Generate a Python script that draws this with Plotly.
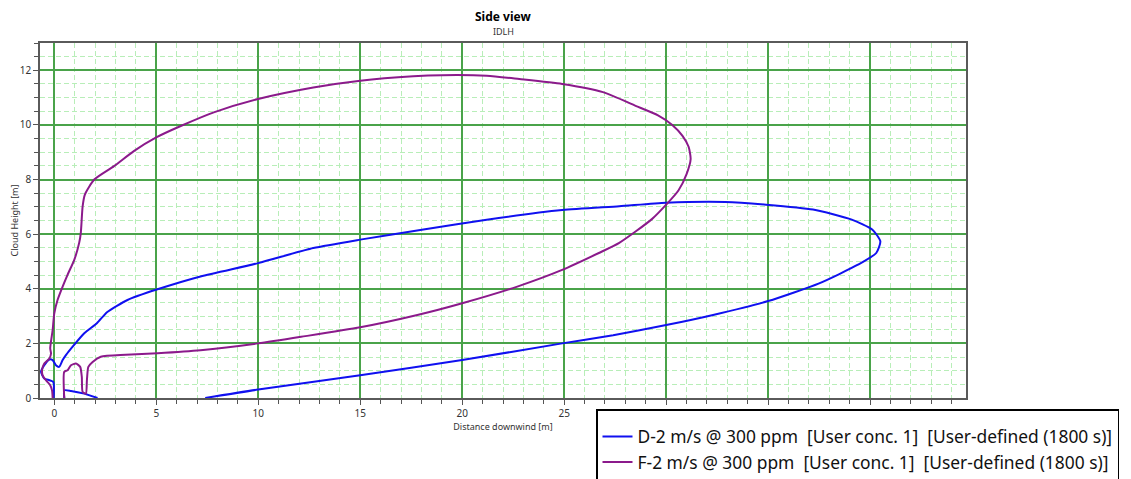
import plotly.graph_objects as go

# ---- data ----
d2_x = [7.4, 10.0, 15.0, 20.0, 24.9, 27.4, 30.0, 32.3, 35.0, 37.5, 39.4, 40.3, 40.5, 40.1, 39.1,
        37.2, 34.9, 32.9, 30.0, 27.7, 24.9, 21.2, 18.1, 15.0, 12.7, 10.0, 7.17, 5.06, 3.59, 2.6,
        2.1, 1.47, 0.9, 0.57, 0.41, 0.24, 0.08, -0.08, -0.24, -0.49, -0.65, -0.49, -0.24, -0.05, -0.03,
        None, 0.49, 0.49, 0.82, 1.47, 2.12]
d2_y = [0.0, 0.31, 0.83, 1.39, 2.0, 2.3, 2.67, 3.04, 3.55, 4.2, 4.88, 5.31, 5.74, 6.17, 6.53,
        6.9, 7.08, 7.18, 7.15, 7.02, 6.88, 6.53, 6.17, 5.8, 5.49, 4.94, 4.45, 3.98, 3.59, 3.15,
        2.75, 2.37, 1.88, 1.57, 1.39, 1.14, 1.2, 1.39, 1.41, 1.2, 0.96, 0.71, 0.65, 0.59, 0.0,
        None, 0.0, 0.28, 0.26, 0.16, 0.0]

f2_x = [0.49, 0.49, 0.65, 0.82, 1.06, 1.27, 1.35, 1.39, 1.55, 1.60, 1.67, 1.88, 2.28, 3.5, 5.06,
        7.17, 10.0, 12.1, 15.0, 17.8, 20.0, 22.7, 24.9, 26.7, 27.7, 29.3, 30.0, 30.6, 31.0, 31.2,
        31.1, 30.8, 30.3, 29.6, 28.5, 26.9, 24.9, 22.8, 21.2, 19.0, 17.6, 15.0, 12.7, 9.94, 7.82, 6.2,
        5.02, 3.9, 2.93, 1.96, 1.5, 1.39, 1.3, 1.22, 0.98, 0.65, 0.41, 0.16, 0.0, -0.08, -0.2,
        -0.16, -0.24, -0.49, -0.6, -0.57, -0.41, -0.2, -0.11, -0.08]
f2_y = [0.0, 0.96, 1.02, 1.2, 1.26, 1.14, 0.77, 0.22, 0.16, 0.65, 1.14, 1.32, 1.51, 1.58, 1.64,
        1.75, 2.0, 2.24, 2.59, 3.04, 3.47, 4.08, 4.69, 5.31, 5.68, 6.55, 7.08, 7.6, 8.2, 8.75,
        9.2, 9.6, 10.0, 10.35, 10.7, 11.2, 11.5, 11.68, 11.8, 11.82, 11.78, 11.62, 11.37, 10.94, 10.46, 9.96,
        9.55, 9.04, 8.49, 8.0, 7.45, 7.02, 6.04, 5.68, 5.06, 4.51, 4.08, 3.59, 3.1, 2.49, 1.82,
        1.63, 1.45, 1.26, 1.02, 0.83, 0.65, 0.47, 0.28, 0.0]

series_names = ["D-2 m/s @ 300 ppm  [User conc. 1]  [User-defined (1800 s)]",
                "F-2 m/s @ 300 ppm  [User conc. 1]  [User-defined (1800 s)]"]
series_colors = ["#1010f0", "#8b1a8b"]

x_ticks = [0, 5, 10, 15, 20, 25, 30, 35, 40]
x_ticklabels = ["0", "5", "10", "15", "20", "25", "", "", ""]   # 30-40 hidden behind legend
y_ticks = [0, 2, 4, 6, 8, 10, 12]

FONT = "Noto Sans"

fig = go.Figure()
fig.add_trace(go.Scatter(x=d2_x, y=d2_y, mode="lines", name=series_names[0],
                         line=dict(color=series_colors[0], width=2, shape="spline", smoothing=0.6),
                         connectgaps=False))
fig.add_trace(go.Scatter(x=f2_x, y=f2_y, mode="lines", name=series_names[1],
                         line=dict(color=series_colors[1], width=2, shape="spline", smoothing=0.6),
                         connectgaps=False))

major_grid = "#4aa34a"
minor_grid = "#b8eeb8"

# the page body adds an 8px offset; figure sized so it ends at the window edge
OFF = 8
W, H = 1131 - OFF, 479 - OFF
L, T = 40 - OFF, 43 - OFF
plot_right, plot_bottom = 966 - OFF, 397.7 - OFF
R, B = W - plot_right, H - plot_bottom
plot_w = W - L - R
plot_h = H - T - B

fig.update_layout(
    width=W, height=H,
    margin=dict(l=L, r=R, t=T, b=B, autoexpand=False),
    paper_bgcolor="white", plot_bgcolor="white",
    font=dict(family=FONT, size=10, color="#333333"),
    showlegend=True,
    legend=dict(x=(596 - OFF - L) / plot_w, y=-(409 - OFF - plot_bottom) / plot_h,
                xanchor="left", yanchor="top",
                bgcolor="white", bordercolor="black", borderwidth=1.5,
                font=dict(family=FONT, size=17.4, color="#111111"),
                title=dict(text=" ", font=dict(size=6)),
                itemwidth=30, tracegroupgap=0),
    annotations=[
        dict(text="<b>Side view</b>", x=0.5, y=1 + (T - (16.5 - OFF)) / plot_h, xref="paper", yref="paper",
             showarrow=False, font=dict(size=12, color="black"), yanchor="middle", borderpad=0),
        dict(text="IDLH", x=0.5, y=1 + (T - (32 - OFF)) / plot_h, xref="paper", yref="paper",
             showarrow=False, font=dict(size=9, color="#333333"), yanchor="middle"),
    ],
)

fig.update_xaxes(
    range=[-0.7, 44.7], tickvals=x_ticks, ticktext=x_ticklabels, automargin=False,
    showgrid=True, gridcolor=major_grid, gridwidth=1.5,
    zeroline=False, showline=True, mirror=True, linecolor="#5a5a5a", linewidth=1.5,
    ticks="outside", ticklen=5, tickcolor="#555555",
    minor=dict(dtick=1, tick0=0, showgrid=True, gridcolor=minor_grid, griddash="5px,3px",
               gridwidth=1, ticks="outside", ticklen=4, tickcolor="#555555"),
    title=dict(text="Distance downwind [m]", font=dict(size=9, color="#333333"), standoff=2),
    tickfont=dict(size=10, color="#333333"),
)
fig.update_yaxes(
    range=[0, 13], tickvals=y_ticks, ticktext=[str(v) for v in y_ticks], automargin=False,
    showgrid=True, gridcolor=major_grid, gridwidth=1.5,
    zeroline=False, showline=True, mirror=True, linecolor="#5a5a5a", linewidth=1.5,
    ticks="outside", ticklen=5, tickcolor="#555555",
    minor=dict(dtick=0.5, tick0=0, showgrid=True, gridcolor=minor_grid, griddash="5px,3px",
               gridwidth=1, ticks="outside", ticklen=4, tickcolor="#555555"),
    title=dict(text="Cloud Height [m]", font=dict(size=9, color="#333333"), standoff=1),
    tickfont=dict(size=10, color="#333333"),
)

fig.write_html("out.html")
